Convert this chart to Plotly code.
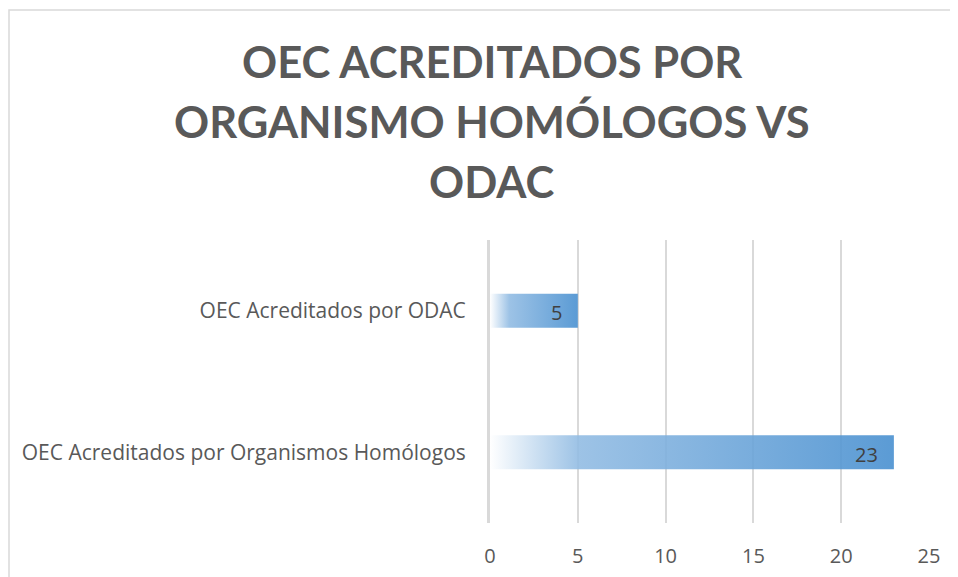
"""
Horizontal bar chart: OEC accredited by homologous bodies vs ODAC.
"""
import plotly.graph_objects as go

categories = ["OEC Acreditados por Organismos Homólogos", "OEC Acreditados por ODAC"]
values = [23, 5]
x_ticks = [0, 5, 10, 15, 20, 25]
title_lines = ["OEC ACREDITADOS POR", "ORGANISMO HOMÓLOGOS VS", "ODAC"]

# the page body has an 8px margin, so the figure is drawn 8px smaller
OFF = 8
W, H = 958 - OFF, 577 - OFF
L, R, T, B = 490 - OFF, 958 - 929, 240 - OFF, 577 - 523
PW, PH = W - L - R, H - T - B
TEXT = "#595959"
GRID = "#d9d9d9"
TITLE_FONT = "Lato"
FONT = "Open Sans"


def px_to_paper(px, py):
    """Reference-picture pixel -> paper coords of the plot area."""
    return (px - OFF - L) / PW, (H - B - (py - OFF)) / PH


fig = go.Figure()

half = 0.12
for i, (cat, v) in enumerate(zip(categories, values)):
    fig.add_trace(
        go.Scatter(
            x=[0, v, v, 0, 0],
            y=[i - half, i - half, i + half, i + half, i - half],
            mode="lines",
            fill="toself",
            line=dict(width=0),
            fillgradient=dict(
                type="horizontal",
                colorscale=[
                    [0, "rgba(255,255,255,0.9)"],
                    [0.22, "rgba(146,188,227,0.9)"],
                    [1, "rgba(73,144,208,0.9)"],
                ],
            ),
            name=cat,
            hoverinfo="skip",
            showlegend=False,
        )
    )
    fig.add_annotation(
        x=v, y=i, text=str(v), xanchor="right", xshift=-14, yshift=-2,
        showarrow=False, font=dict(family=FONT, size=20, color="#404040"),
    )

# title, one line at a time to control spacing
for j, line in enumerate(title_lines):
    ax, ay = px_to_paper(492, 61 + 60 * j)
    fig.add_annotation(
        x=ax, y=ay, xref="paper", yref="paper", text=line, showarrow=False,
        xanchor="center", yanchor="middle",
        font=dict(family=TITLE_FONT, size=43.5, color=TEXT, weight="bold"),
    )

# chart-area border (right/bottom run off the picture)
bx0, by0 = px_to_paper(OFF + 1, 10)
bx1, by1 = px_to_paper(990, 620)
fig.add_shape(type="rect", xref="paper", yref="paper", x0=bx0, y0=by1, x1=bx1, y1=by0,
              line=dict(color=GRID, width=1.5), layer="below")

fig.update_xaxes(
    range=[0, 25], tickvals=x_ticks, showgrid=True, gridcolor=GRID, gridwidth=1.5,
    zeroline=False, showline=False, ticks="", ticklabelstandoff=19,
    tickfont=dict(family=FONT, size=20, color=TEXT), layer="above traces",
)
fig.update_yaxes(
    range=[-0.5, 1.5], tickvals=list(range(len(categories))), ticktext=categories,
    showgrid=False, zeroline=False, showline=True, linecolor=GRID, linewidth=3,
    ticks="", ticklabelstandoff=17, tickfont=dict(family=FONT, size=21, color=TEXT),
)
fig.update_layout(
    width=W, height=H, margin=dict(l=L, r=R, t=T, b=B, autoexpand=False),
    plot_bgcolor="white", paper_bgcolor="white", showlegend=False,
)
fig.write_html("out.html")
